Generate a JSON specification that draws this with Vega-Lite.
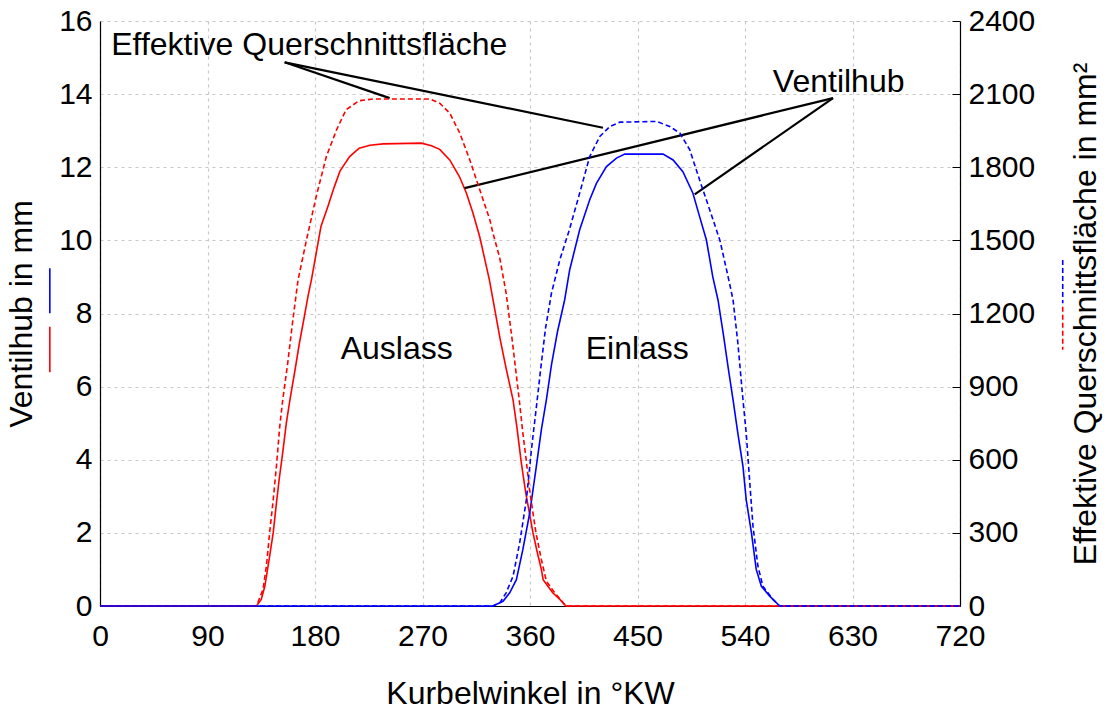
{
  "$schema": "https://vega.github.io/schema/vega-lite/v6.json",
  "width": 860,
  "height": 585,
  "autosize": {"type": "none"},
  "padding": {"left": 100, "top": 21, "right": 145, "bottom": 105},
  "background": "#ffffff",
  "config": {
    "view": {"stroke": null},
    "font": "Liberation Sans",
    "text": {"font": "Liberation Sans"},
    "axis": {
      "labelFont": "Liberation Sans",
      "labelFontSize": 30,
      "labelColor": "#000000",
      "labelFlush": false,
      "labelOverlap": false,
      "titleFont": "Liberation Sans",
      "titleFontSize": 32,
      "titleFontWeight": "normal",
      "titleColor": "#000000",
      "domainColor": "#000000",
      "domainWidth": 1.2,
      "gridColor": "#c8c8c8",
      "gridDash": [3, 4],
      "gridWidth": 1.2,
      "ticks": false
    }
  },
  "datasets": {
    "hub": [
      {"ventil": "Auslass", "kw": 0, "mm": 0},
      {"ventil": "Auslass", "kw": 131, "mm": 0},
      {"ventil": "Auslass", "kw": 135, "mm": 0.18},
      {"ventil": "Auslass", "kw": 138, "mm": 0.54},
      {"ventil": "Auslass", "kw": 142, "mm": 1.36},
      {"ventil": "Auslass", "kw": 145, "mm": 2.0},
      {"ventil": "Auslass", "kw": 148, "mm": 2.9},
      {"ventil": "Auslass", "kw": 150, "mm": 3.46},
      {"ventil": "Auslass", "kw": 153, "mm": 4.2},
      {"ventil": "Auslass", "kw": 156, "mm": 5.0},
      {"ventil": "Auslass", "kw": 159, "mm": 5.64},
      {"ventil": "Auslass", "kw": 163, "mm": 6.4},
      {"ventil": "Auslass", "kw": 167, "mm": 7.2},
      {"ventil": "Auslass", "kw": 171, "mm": 7.9},
      {"ventil": "Auslass", "kw": 174, "mm": 8.45},
      {"ventil": "Auslass", "kw": 177, "mm": 8.92},
      {"ventil": "Auslass", "kw": 181, "mm": 9.65},
      {"ventil": "Auslass", "kw": 185, "mm": 10.38},
      {"ventil": "Auslass", "kw": 191, "mm": 10.95},
      {"ventil": "Auslass", "kw": 196, "mm": 11.45},
      {"ventil": "Auslass", "kw": 201, "mm": 11.9},
      {"ventil": "Auslass", "kw": 209, "mm": 12.29},
      {"ventil": "Auslass", "kw": 217, "mm": 12.52},
      {"ventil": "Auslass", "kw": 226, "mm": 12.6},
      {"ventil": "Auslass", "kw": 237, "mm": 12.64},
      {"ventil": "Auslass", "kw": 269, "mm": 12.66},
      {"ventil": "Auslass", "kw": 277.5, "mm": 12.59},
      {"ventil": "Auslass", "kw": 284.4, "mm": 12.49},
      {"ventil": "Auslass", "kw": 292.8, "mm": 12.2},
      {"ventil": "Auslass", "kw": 301, "mm": 11.74},
      {"ventil": "Auslass", "kw": 306.8, "mm": 11.29},
      {"ventil": "Auslass", "kw": 312.3, "mm": 10.74},
      {"ventil": "Auslass", "kw": 317.9, "mm": 10.1},
      {"ventil": "Auslass", "kw": 326, "mm": 8.92},
      {"ventil": "Auslass", "kw": 330, "mm": 8.2},
      {"ventil": "Auslass", "kw": 335, "mm": 7.3},
      {"ventil": "Auslass", "kw": 340, "mm": 6.5},
      {"ventil": "Auslass", "kw": 345.8, "mm": 5.64},
      {"ventil": "Auslass", "kw": 349, "mm": 4.9},
      {"ventil": "Auslass", "kw": 352.8, "mm": 3.9},
      {"ventil": "Auslass", "kw": 356.4, "mm": 3.1},
      {"ventil": "Auslass", "kw": 359.2, "mm": 2.6},
      {"ventil": "Auslass", "kw": 362.5, "mm": 2.0},
      {"ventil": "Auslass", "kw": 366.2, "mm": 1.45},
      {"ventil": "Auslass", "kw": 369.5, "mm": 1.0},
      {"ventil": "Auslass", "kw": 371, "mm": 0.72},
      {"ventil": "Auslass", "kw": 379, "mm": 0.36},
      {"ventil": "Auslass", "kw": 385, "mm": 0.18},
      {"ventil": "Auslass", "kw": 390, "mm": 0},
      {"ventil": "Auslass", "kw": 720, "mm": 0},
      {"ventil": "Einlass", "kw": 0, "mm": 0},
      {"ventil": "Einlass", "kw": 329, "mm": 0},
      {"ventil": "Einlass", "kw": 337.4, "mm": 0.13},
      {"ventil": "Einlass", "kw": 343, "mm": 0.36},
      {"ventil": "Einlass", "kw": 348.6, "mm": 0.72},
      {"ventil": "Einlass", "kw": 354, "mm": 1.54},
      {"ventil": "Einlass", "kw": 359.8, "mm": 2.55},
      {"ventil": "Einlass", "kw": 365.3, "mm": 3.82},
      {"ventil": "Einlass", "kw": 369.5, "mm": 4.82},
      {"ventil": "Einlass", "kw": 373.7, "mm": 5.64},
      {"ventil": "Einlass", "kw": 378, "mm": 6.6},
      {"ventil": "Einlass", "kw": 383, "mm": 7.5},
      {"ventil": "Einlass", "kw": 389, "mm": 8.37},
      {"ventil": "Einlass", "kw": 393.2, "mm": 9.19},
      {"ventil": "Einlass", "kw": 401.6, "mm": 10.29},
      {"ventil": "Einlass", "kw": 410, "mm": 11.11},
      {"ventil": "Einlass", "kw": 415.6, "mm": 11.56},
      {"ventil": "Einlass", "kw": 424, "mm": 12.02},
      {"ventil": "Einlass", "kw": 432.4, "mm": 12.25},
      {"ventil": "Einlass", "kw": 439.3, "mm": 12.36},
      {"ventil": "Einlass", "kw": 471.4, "mm": 12.36},
      {"ventil": "Einlass", "kw": 479.8, "mm": 12.2},
      {"ventil": "Einlass", "kw": 488, "mm": 11.88},
      {"ventil": "Einlass", "kw": 496.4, "mm": 11.29},
      {"ventil": "Einlass", "kw": 502, "mm": 10.65},
      {"ventil": "Einlass", "kw": 507.7, "mm": 10.01},
      {"ventil": "Einlass", "kw": 513, "mm": 9.01},
      {"ventil": "Einlass", "kw": 517.4, "mm": 8.37},
      {"ventil": "Einlass", "kw": 522, "mm": 7.4},
      {"ventil": "Einlass", "kw": 526, "mm": 6.5},
      {"ventil": "Einlass", "kw": 530, "mm": 5.64},
      {"ventil": "Einlass", "kw": 534, "mm": 4.73},
      {"ventil": "Einlass", "kw": 538.3, "mm": 3.82},
      {"ventil": "Einlass", "kw": 541, "mm": 2.91},
      {"ventil": "Einlass", "kw": 545.4, "mm": 2.0},
      {"ventil": "Einlass", "kw": 549.4, "mm": 1.0},
      {"ventil": "Einlass", "kw": 553.7, "mm": 0.54},
      {"ventil": "Einlass", "kw": 560.7, "mm": 0.27},
      {"ventil": "Einlass", "kw": 569, "mm": 0},
      {"ventil": "Einlass", "kw": 720, "mm": 0}
    ],
    "flaeche": [
      {"ventil": "Auslass", "kw": 0, "mm2": 0},
      {"ventil": "Auslass", "kw": 131, "mm2": 0},
      {"ventil": "Auslass", "kw": 136.5, "mm2": 68},
      {"ventil": "Auslass", "kw": 139.3, "mm2": 164},
      {"ventil": "Auslass", "kw": 142, "mm2": 300},
      {"ventil": "Auslass", "kw": 145, "mm2": 435},
      {"ventil": "Auslass", "kw": 147.7, "mm2": 573},
      {"ventil": "Auslass", "kw": 150.5, "mm2": 737},
      {"ventil": "Auslass", "kw": 153, "mm2": 846},
      {"ventil": "Auslass", "kw": 157, "mm2": 990},
      {"ventil": "Auslass", "kw": 161, "mm2": 1155},
      {"ventil": "Auslass", "kw": 165.8, "mm2": 1338},
      {"ventil": "Auslass", "kw": 172.8, "mm2": 1500},
      {"ventil": "Auslass", "kw": 181, "mm2": 1680},
      {"ventil": "Auslass", "kw": 189.5, "mm2": 1844},
      {"ventil": "Auslass", "kw": 198, "mm2": 1953},
      {"ventil": "Auslass", "kw": 206, "mm2": 2036},
      {"ventil": "Auslass", "kw": 217, "mm2": 2073},
      {"ventil": "Auslass", "kw": 228.5, "mm2": 2080},
      {"ventil": "Auslass", "kw": 276, "mm2": 2080},
      {"ventil": "Auslass", "kw": 284.4, "mm2": 2063},
      {"ventil": "Auslass", "kw": 292.8, "mm2": 2022},
      {"ventil": "Auslass", "kw": 301.2, "mm2": 1940},
      {"ventil": "Auslass", "kw": 309.6, "mm2": 1830},
      {"ventil": "Auslass", "kw": 318, "mm2": 1707},
      {"ventil": "Auslass", "kw": 326.4, "mm2": 1584},
      {"ventil": "Auslass", "kw": 329, "mm2": 1530},
      {"ventil": "Auslass", "kw": 334.8, "mm2": 1425},
      {"ventil": "Auslass", "kw": 340, "mm2": 1284},
      {"ventil": "Auslass", "kw": 345, "mm2": 1095},
      {"ventil": "Auslass", "kw": 351, "mm2": 846},
      {"ventil": "Auslass", "kw": 354, "mm2": 710},
      {"ventil": "Auslass", "kw": 356.8, "mm2": 600},
      {"ventil": "Auslass", "kw": 359.6, "mm2": 477},
      {"ventil": "Auslass", "kw": 365, "mm2": 300},
      {"ventil": "Auslass", "kw": 369.5, "mm2": 191},
      {"ventil": "Auslass", "kw": 373.7, "mm2": 102},
      {"ventil": "Auslass", "kw": 380.7, "mm2": 54},
      {"ventil": "Auslass", "kw": 387.6, "mm2": 14},
      {"ventil": "Auslass", "kw": 390, "mm2": 0},
      {"ventil": "Auslass", "kw": 720, "mm2": 0},
      {"ventil": "Einlass", "kw": 0, "mm2": 0},
      {"ventil": "Einlass", "kw": 329, "mm2": 0},
      {"ventil": "Einlass", "kw": 335, "mm2": 15},
      {"ventil": "Einlass", "kw": 340, "mm2": 54},
      {"ventil": "Einlass", "kw": 345.8, "mm2": 122},
      {"ventil": "Einlass", "kw": 351.4, "mm2": 260},
      {"ventil": "Einlass", "kw": 357, "mm2": 437},
      {"ventil": "Einlass", "kw": 361.2, "mm2": 642},
      {"ventil": "Einlass", "kw": 365.4, "mm2": 819},
      {"ventil": "Einlass", "kw": 369, "mm2": 975},
      {"ventil": "Einlass", "kw": 373, "mm2": 1140},
      {"ventil": "Einlass", "kw": 378, "mm2": 1284},
      {"ventil": "Einlass", "kw": 385, "mm2": 1421},
      {"ventil": "Einlass", "kw": 393, "mm2": 1544},
      {"ventil": "Einlass", "kw": 401.6, "mm2": 1694},
      {"ventil": "Einlass", "kw": 410, "mm2": 1844},
      {"ventil": "Einlass", "kw": 418.4, "mm2": 1926},
      {"ventil": "Einlass", "kw": 426.8, "mm2": 1967},
      {"ventil": "Einlass", "kw": 435.2, "mm2": 1985},
      {"ventil": "Einlass", "kw": 466, "mm2": 1988},
      {"ventil": "Einlass", "kw": 477, "mm2": 1967},
      {"ventil": "Einlass", "kw": 485.5, "mm2": 1940},
      {"ventil": "Einlass", "kw": 493.8, "mm2": 1871},
      {"ventil": "Einlass", "kw": 502, "mm2": 1748},
      {"ventil": "Einlass", "kw": 510.5, "mm2": 1625},
      {"ventil": "Einlass", "kw": 519, "mm2": 1500},
      {"ventil": "Einlass", "kw": 525.8, "mm2": 1352},
      {"ventil": "Einlass", "kw": 530, "mm2": 1256},
      {"ventil": "Einlass", "kw": 534, "mm2": 1080},
      {"ventil": "Einlass", "kw": 538.3, "mm2": 846},
      {"ventil": "Einlass", "kw": 541, "mm2": 710},
      {"ventil": "Einlass", "kw": 544, "mm2": 506},
      {"ventil": "Einlass", "kw": 546.7, "mm2": 327},
      {"ventil": "Einlass", "kw": 550.8, "mm2": 164},
      {"ventil": "Einlass", "kw": 555, "mm2": 81},
      {"ventil": "Einlass", "kw": 563.4, "mm2": 27},
      {"ventil": "Einlass", "kw": 569, "mm2": 0},
      {"ventil": "Einlass", "kw": 720, "mm2": 0}
    ],
    "hinweise": [
      {"kw": 154.6, "mm": 14.87, "kw2": 242.5, "mm2": 13.89},
      {"kw": 154.6, "mm": 14.87, "kw2": 421.1, "mm2": 13.08},
      {"kw": 613.7, "mm": 13.89, "kw2": 305.3, "mm2": 11.43},
      {"kw": 613.7, "mm": 13.89, "kw2": 497.9, "mm2": 11.26}
    ],
    "beschriftung": [
      {"kw": 175.2, "mm": 15.07, "text": "Effektive Querschnittsfläche"},
      {"kw": 618.4, "mm": 14.05, "text": "Ventilhub"},
      {"kw": 248.4, "mm": 6.76, "text": "Auslass"},
      {"kw": 449.8, "mm": 6.76, "text": "Einlass"}
    ],
    "kennung_hub": [
      {"ventil": "Einlass", "kw": -42, "mm": 9.24, "mm2": 8.01},
      {"ventil": "Auslass", "kw": -42, "mm": 7.64, "mm2": 6.39}
    ],
    "kennung_flaeche": [
      {"ventil": "Einlass", "kw": 806, "mm2": 1420, "mm2b": 1242},
      {"ventil": "Auslass", "kw": 806, "mm2": 1228, "mm2b": 1051}
    ]
  },
  "layer": [
    {
      "layer": [
        {
          "data": {"name": "hub"},
          "mark": {"type": "line", "strokeWidth": 1.6},
          "encoding": {
            "x": {
              "field": "kw",
              "type": "quantitative",
              "scale": {"domain": [0, 720], "nice": false},
              "axis": {
                "values": [0, 90, 180, 270, 360, 450, 540, 630, 720],
                "title": "Kurbelwinkel in °KW",
                "labelPadding": 15,
                "titlePadding": 27,
                "grid": true
              }
            },
            "y": {
              "field": "mm",
              "type": "quantitative",
              "scale": {"domain": [0, 16], "nice": false},
              "axis": {
                "values": [0, 2, 4, 6, 8, 10, 12, 14, 16],
                "title": "Ventilhub in mm",
                "labelPadding": 8,
                "titlePadding": 20,
                "grid": true
              }
            },
            "color": {
              "field": "ventil",
              "type": "nominal",
              "scale": {"domain": ["Auslass", "Einlass"], "range": ["#ff0000", "#0000ff"]},
              "legend": null
            }
          }
        },
        {
          "data": {"name": "hinweise"},
          "mark": {"type": "rule", "color": "#000000", "strokeWidth": 2.2},
          "encoding": {
            "x": {"field": "kw", "type": "quantitative"},
            "x2": {"field": "kw2"},
            "y": {"field": "mm", "type": "quantitative"},
            "y2": {"field": "mm2"}
          }
        },
        {
          "data": {"name": "beschriftung"},
          "mark": {"type": "text", "fontSize": 32, "align": "center", "baseline": "alphabetic", "color": "#000000"},
          "encoding": {
            "x": {"field": "kw", "type": "quantitative"},
            "y": {"field": "mm", "type": "quantitative"},
            "text": {"field": "text"}
          }
        },
        {
          "data": {"name": "kennung_hub"},
          "mark": {"type": "rule", "strokeWidth": 1.6},
          "encoding": {
            "x": {"field": "kw", "type": "quantitative"},
            "y": {"field": "mm", "type": "quantitative"},
            "y2": {"field": "mm2"},
            "color": {"field": "ventil", "type": "nominal", "legend": null}
          }
        }
      ]
    },
    {
      "layer": [
        {
          "data": {"name": "flaeche"},
          "mark": {"type": "line", "strokeWidth": 1.6, "strokeDash": [5, 3]},
          "encoding": {
            "x": {"field": "kw", "type": "quantitative"},
            "y": {
              "field": "mm2",
              "type": "quantitative",
              "scale": {"domain": [0, 2400], "nice": false},
              "axis": {
                "orient": "right",
                "values": [0, 300, 600, 900, 1200, 1500, 1800, 2100, 2400],
                "format": "d",
                "title": "Effektive Querschnittsfläche in mm²",
                "titleAngle": 270,
                "titleBaseline": "top",
                "grid": false,
                "ticks": true,
                "tickSize": -8,
                "tickColor": "#000000",
                "labelPadding": 16,
                "titlePadding": 36
              }
            },
            "color": {"field": "ventil", "type": "nominal", "legend": null}
          }
        },
        {
          "data": {"name": "kennung_flaeche"},
          "mark": {"type": "rule", "strokeWidth": 1.6, "strokeDash": [5, 3]},
          "encoding": {
            "x": {"field": "kw", "type": "quantitative"},
            "y": {"field": "mm2", "type": "quantitative"},
            "y2": {"field": "mm2b"},
            "color": {"field": "ventil", "type": "nominal", "legend": null}
          }
        }
      ]
    }
  ],
  "resolve": {"scale": {"y": "independent"}}
}
